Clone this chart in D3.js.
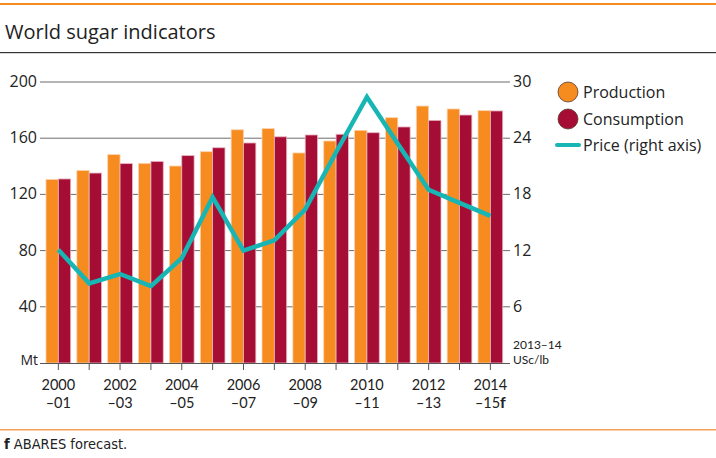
<!DOCTYPE html>
<html>
<head>
<meta charset="utf-8">
<script src="https://cdn.jsdelivr.net/npm/d3@7"></script>
<style>
  body { margin: 0; background: #fff; }
  text { font-family: "Open Sans", "Noto Sans", sans-serif; fill: #222; }
  .lato { font-family: Lato, "Open Sans", sans-serif; }
</style>
</head>
<body>
<div id="chart"></div>
<script>
const years = ["2000", "2001", "2002", "2003", "2004", "2005", "2006", "2007",
               "2008", "2009", "2010", "2011", "2012", "2013", "2014"];
const yearEnds = ["01", "02", "03", "04", "05", "06", "07", "08",
                  "09", "10", "11", "12", "13", "14", "15"];
const production = [130.7, 137.1, 148.3, 142.1, 140.2, 150.4, 166.0, 166.8,
                    149.5, 158.0, 165.6, 174.6, 182.9, 180.8, 179.6];
const consumption = [131.0, 135.2, 141.9, 143.5, 147.6, 153.2, 156.6, 161.0,
                     162.3, 162.8, 163.9, 168.0, 172.7, 176.5, 179.4];
const price = [12.1, 8.5, 9.5, 8.2, 11.2, 17.7, 12.0, 13.1,
               16.4, 22.5, 28.4, 23.4, 18.5, 17.1, 15.7];
const leftTicks = [40, 80, 120, 160, 200];
const rightTicks = [6, 12, 18, 24, 30];

const width = 716;
const height = 458;
const orange = "#f68b1f";
const crimson = "#a50d35";
const teal = "#17b6b5";

const svg = d3.select("#chart").append("svg")
    .attr("width", width)
    .attr("height", height);

// header and footer rules
svg.append("rect").attr("x", 0).attr("y", 3).attr("width", width).attr("height", 2).attr("fill", orange);
svg.append("text").attr("x", 5).attr("y", 39).attr("font-size", 20).text("World sugar indicators");
svg.append("rect").attr("x", 0).attr("y", 52).attr("width", width).attr("height", 1.2).attr("fill", "#333");
svg.append("rect").attr("x", 0).attr("y", 429).attr("width", width).attr("height", 1.5).attr("fill", "#f4a25a");

const foot = svg.append("text").attr("x", 4).attr("y", 449).attr("font-size", 14.5)
    .style("font-family", "'Liberation Sans Narrow', 'DejaVu Sans Condensed', sans-serif");
foot.append("tspan").attr("font-weight", "bold").text("f");
foot.append("tspan").text(" ABARES forecast.");

const plotLeft = 40, plotRight = 510, plotTop = 82, plotBottom = 363;

const x = d3.scaleBand().domain(years).range([42.9, 505.8]).paddingInner(0.2).paddingOuter(0.1);
const xSub = d3.scaleBand().domain(["p", "c"]).range([0, x.bandwidth()]);
const yL = d3.scaleLinear().domain([0, 200]).range([plotBottom, plotTop]);
const yR = d3.scaleLinear().domain([0, 30]).range([plotBottom, plotTop]);

// gridlines
svg.append("g").selectAll("line").data(leftTicks).join("line")
    .attr("x1", plotLeft).attr("x2", plotRight)
    .attr("y1", d => yL(d)).attr("y2", d => yL(d))
    .attr("stroke", "#6d6d6d").attr("stroke-width", 1);

// bars
const groups = svg.append("g").selectAll("g").data(years).join("g")
    .attr("transform", d => `translate(${x(d)},0)`);
groups.append("rect")
    .attr("x", xSub("p")).attr("width", xSub.bandwidth())
    .attr("y", (d, i) => yL(production[i])).attr("height", (d, i) => yL(0) - yL(production[i]))
    .attr("fill", orange).attr("stroke", "#fbd3b0").attr("stroke-width", 0.8);
groups.append("rect")
    .attr("x", xSub("c")).attr("width", xSub.bandwidth())
    .attr("y", (d, i) => yL(consumption[i])).attr("height", (d, i) => yL(0) - yL(consumption[i]))
    .attr("fill", crimson).attr("stroke", "#e8b7c2").attr("stroke-width", 0.8);

// price line
const line = d3.line()
    .x((d, i) => x(years[i]) + x.bandwidth() / 2)
    .y(d => yR(d));
svg.append("path").datum(price)
    .attr("d", line)
    .attr("fill", "none").attr("stroke", teal).attr("stroke-width", 4.5)
    .attr("stroke-linejoin", "miter");

// x axis
const xAxis = svg.append("g").attr("transform", `translate(0,${plotBottom})`)
    .call(d3.axisBottom(x).tickSize(7).tickFormat(""));
xAxis.select(".domain").attr("d", `M${plotLeft},0.5H${plotRight}`).attr("stroke", "#555");
xAxis.selectAll(".tick line").attr("stroke", "#555");

const labelYears = years.filter((d, i) => i % 2 === 0);
const xlabels = svg.append("g").attr("class", "lato").attr("font-size", 14.5).attr("text-anchor", "middle");
xlabels.selectAll("text.yr").data(labelYears).join("text")
    .attr("class", "yr lato")
    .attr("x", d => x(d) + x.bandwidth() / 2).attr("y", 390)
    .text(d => d);
const ends = xlabels.selectAll("text.end").data(labelYears).join("text")
    .attr("class", "end lato")
    .attr("x", d => x(d) + x.bandwidth() / 2).attr("y", 407.5)
    .text(d => "\u2013" + yearEnds[years.indexOf(d)]);
ends.filter(d => d === "2014").append("tspan")
    .attr("font-weight", "bold").attr("font-size", 16).text("f");

// left axis labels
svg.append("g").selectAll("text").data(leftTicks).join("text")
    .attr("x", 37).attr("y", d => yL(d) + 5)
    .attr("text-anchor", "end").attr("font-size", 16)
    .text(d => d);
svg.append("text").attr("x", 38).attr("y", 365).attr("text-anchor", "end")
    .attr("font-size", 14).text("Mt");

// right axis labels
svg.append("g").selectAll("text").data(rightTicks).join("text")
    .attr("x", 513).attr("y", d => yR(d) + 5)
    .attr("font-size", 16)
    .text(d => d);
svg.append("text").attr("class", "lato").attr("x", 513).attr("y", 349).attr("font-size", 12).text("2013\u201314");
svg.append("text").attr("class", "lato").attr("x", 513).attr("y", 363.5).attr("font-size", 12).text("USc/lb");

// legend
const legend = svg.append("g");
const legendItems = [
  {name: "Production", color: orange, type: "circle", y: 92},
  {name: "Consumption", color: crimson, type: "circle", y: 119},
  {name: "Price (right axis)", color: teal, type: "line", y: 145}
];
legendItems.forEach(item => {
  if (item.type === "circle") {
    legend.append("circle").attr("cx", 568).attr("cy", item.y).attr("r", 10)
      .attr("fill", item.color).attr("stroke", "#5a3a2a").attr("stroke-width", 0.8);
  } else {
    legend.append("line").attr("x1", 557).attr("x2", 579).attr("y1", item.y).attr("y2", item.y)
      .attr("stroke", item.color).attr("stroke-width", 4).attr("stroke-linecap", "round");
  }
  legend.append("text").attr("x", 583).attr("y", item.y + 6).attr("font-size", 16).text(item.name);
});
</script>
</body>
</html>
